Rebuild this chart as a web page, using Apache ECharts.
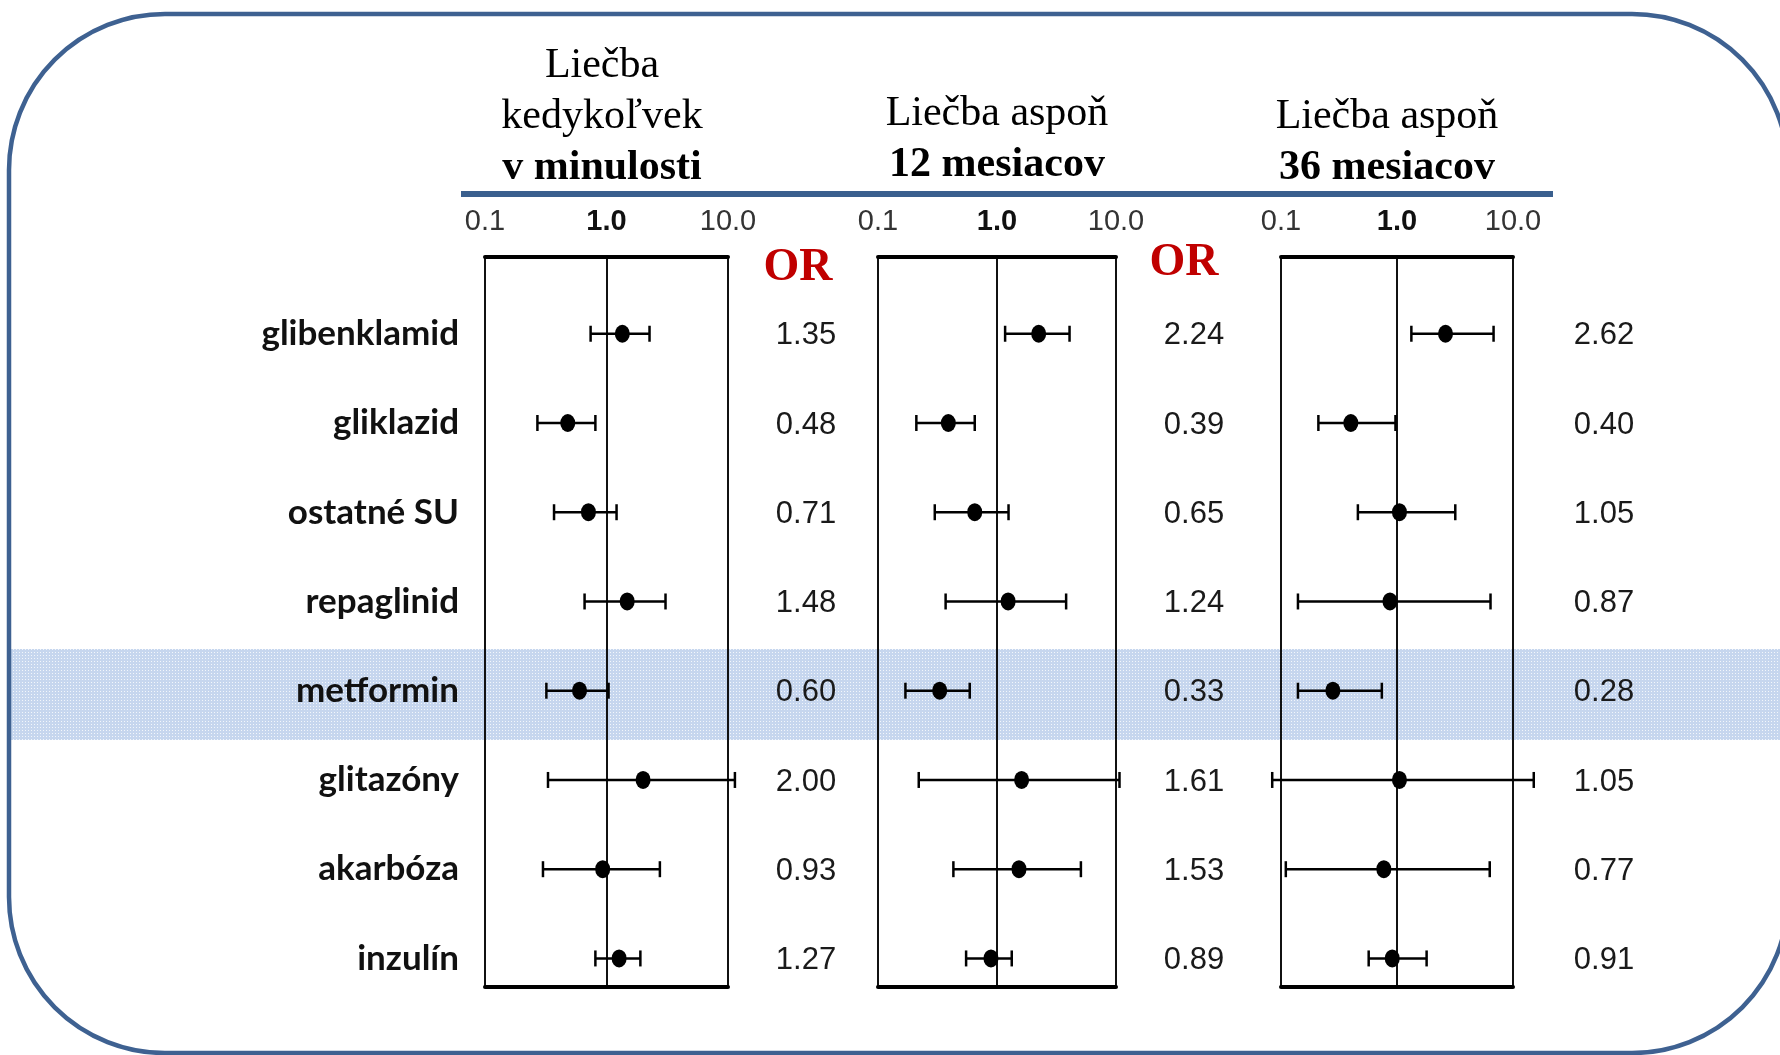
<!DOCTYPE html>
<html>
<head>
<meta charset="utf-8">
<script src="https://cdn.jsdelivr.net/npm/echarts@6/dist/echarts.min.js"></script>
<style>html,body{margin:0;padding:0;background:#fff}#c{width:1780px;height:1055px}</style>
</head>
<body>
<div id="c"></div>
<script>
const drugs = ['glibenklamid','gliklazid','ostatné SU','repaglinid','metformin','glitazóny','akarbóza','inzulín'];
const panelTitles = [['Liečba','kedykoľvek','v minulosti'], ['Liečba aspoň','12 mesiacov'], ['Liečba aspoň','36 mesiacov']];
const tickLabels = ['0.1','1.0','10.0'];
const or1 = [1.35,0.48,0.71,1.48,0.60,2.00,0.93,1.27];
const lo1 = [0.74,0.27,0.37,0.66,0.32,0.33,0.30,0.81];
const hi1 = [2.26,0.81,1.21,3.06,1.04,11.4,2.75,1.90];
const or2 = [2.24,0.39,0.65,1.24,0.33,1.61,1.53,0.89];
const lo2 = [1.17,0.21,0.30,0.37,0.17,0.22,0.43,0.55];
const hi2 = [4.07,0.65,1.25,3.81,0.59,10.7,5.07,1.33];
const or3 = [2.62,0.40,1.05,0.87,0.28,1.05,0.77,0.91];
const lo3 = [1.33,0.21,0.46,0.14,0.14,0.084,0.11,0.57];
const hi3 = [6.8,0.97,3.18,6.4,0.74,15.1,6.3,1.8];

const ORs = [or1, or2, or3], LOs = [lo1, lo2, lo3], HIs = [hi1, hi2, hi3];

const chart = echarts.init(document.getElementById('c'));

// dotted texture for highlighted row
const tile = document.createElement('canvas');
tile.width = 3; tile.height = 3;
const tctx = tile.getContext('2d');
tctx.fillStyle = '#c6d6ee'; tctx.fillRect(0, 0, 3, 3);
tctx.fillStyle = '#f2f6fb'; tctx.fillRect(1, 1, 1, 1);

const panels = [
  {left: 485, width: 243, orOffset: 78},
  {left: 878, width: 238, orOffset: 78},
  {left: 1281, width: 232, orOffset: 91}
];
const gridTop = 257, gridBottomY = 987;

const grids = [], xAxes = [], yAxes = [], series = [];
panels.forEach((p, i) => {
  grids.push({left: p.left, top: gridTop, width: p.width, height: gridBottomY - gridTop, containLabel: false});
  xAxes.push({
    type: 'log', logBase: 10, min: 0.1, max: 10, gridIndex: i, position: 'top',
    axisLine: {show: true, onZero: false, lineStyle: {color: '#000', width: 4}},
    axisTick: {show: false},
    splitLine: {show: true, lineStyle: {color: '#111', width: 2}},
    axisLabel: {
      margin: 21, color: '#333', fontFamily: 'Liberation Sans, Arial', fontSize: 29,
      formatter: v => v > 0.5 && v < 2 ? '{b|' + tickLabels[1] + '}' : (v < 0.5 ? tickLabels[0] : tickLabels[2]),
      rich: {b: {fontWeight: 'bold', fontSize: 29, color: '#111', fontFamily: 'Liberation Sans, Arial'}}
    }
  });
  xAxes.push({
    type: 'log', logBase: 10, min: 0.1, max: 10, gridIndex: i, position: 'bottom',
    axisLine: {show: true, onZero: false, lineStyle: {color: '#000', width: 4}},
    axisTick: {show: false}, axisLabel: {show: false}, splitLine: {show: false}
  });
  yAxes.push({type: 'value', gridIndex: i, inverse: true, min: -0.86, max: 7.32, show: false});

  const ORv = ORs[i], LOv = LOs[i], HIv = HIs[i];
  series.push({
    type: 'custom', xAxisIndex: i * 2, yAxisIndex: i, z: 3,
    data: drugs.map((d, k) => [LOv[k], HIv[k], k]),
    encode: {x: [0, 1], y: 2},
    renderItem: (params, api) => {
      const a = api.coord([api.value(0), api.value(2)]);
      const b = api.coord([api.value(1), api.value(2)]);
      const cap = 8;
      const st = {stroke: '#000', lineWidth: 2.5};
      return {type: 'group', children: [
        {type: 'line', shape: {x1: a[0], y1: a[1], x2: b[0], y2: b[1]}, style: st},
        {type: 'line', shape: {x1: a[0], y1: a[1] - cap, x2: a[0], y2: a[1] + cap}, style: st},
        {type: 'line', shape: {x1: b[0], y1: b[1] - cap, x2: b[0], y2: b[1] + cap}, style: st}
      ]};
    }
  });
  series.push({
    type: 'scatter', xAxisIndex: i * 2, yAxisIndex: i, z: 4,
    symbol: 'circle', symbolSize: [15, 18],
    itemStyle: {color: '#000', opacity: 1},
    data: drugs.map((d, k) => [ORv[k], k])
  });
  // OR value column
  series.push({
    type: 'custom', xAxisIndex: i * 2, yAxisIndex: i, z: 5,
    data: drugs.map((d, k) => [10, k, ORv[k]]),
    encode: {x: 0, y: 1},
    renderItem: (params, api) => {
      const c = api.coord([10, api.value(1)]);
      return {type: 'text', x: c[0] + p.orOffset, y: c[1] + 2, style: {
        text: api.value(2).toFixed(2), fill: '#1a1a1a', fontSize: 31,
        fontFamily: 'Liberation Sans, Arial', align: 'center', verticalAlign: 'middle'}};
    }
  });
});
// row labels
series.push({
  type: 'custom', xAxisIndex: 0, yAxisIndex: 0, z: 5,
  data: drugs.map((d, k) => [0.1, k, d]),
  encode: {x: 0, y: 1},
  renderItem: (params, api) => {
    const c = api.coord([0.1, api.value(1)]);
    return {type: 'text', x: c[0] - 26, y: c[1], style: {
      text: drugs[params.dataIndex], fill: '#111', fontSize: 35, fontWeight: 'bold',
      fontFamily: 'Lato, Open Sans, sans-serif', align: 'right', verticalAlign: 'middle'}};
  }
});

const titleFont = 'Liberation Serif, Times New Roman, serif';
const graphic = [
  {type: 'rect', z: -10, silent: true, shape: {x: 10, y: 649, width: 1770, height: 91}, style: {fill: {image: tile, repeat: 'repeat'}}},
  {type: 'rect', z: 10, silent: true, shape: {x: 9, y: 14, width: 1779, height: 1039, r: 156}, style: {fill: null, stroke: '#3e6191', lineWidth: 4.5}},
  {type: 'line', z: 10, silent: true, shape: {x1: 461, y1: 194, x2: 1553, y2: 194}, style: {stroke: '#3a5f8e', lineWidth: 6}},
  {type: 'text', x: 602, y: 66, style: {text: panelTitles[0][0], fontFamily: titleFont, fontSize: 42, fill: '#000', align: 'center', verticalAlign: 'middle'}},
  {type: 'text', x: 602, y: 117, style: {text: panelTitles[0][1], fontFamily: titleFont, fontSize: 42, fill: '#000', align: 'center', verticalAlign: 'middle'}},
  {type: 'text', x: 602, y: 168, style: {text: panelTitles[0][2], fontFamily: titleFont, fontSize: 42, fontWeight: 'bold', fill: '#000', align: 'center', verticalAlign: 'middle'}},
  {type: 'text', x: 997, y: 114, style: {text: panelTitles[1][0], fontFamily: titleFont, fontSize: 42, fill: '#000', align: 'center', verticalAlign: 'middle'}},
  {type: 'text', x: 997, y: 165, style: {text: panelTitles[1][1], fontFamily: titleFont, fontSize: 42, fontWeight: 'bold', fill: '#000', align: 'center', verticalAlign: 'middle'}},
  {type: 'text', x: 1387, y: 117, style: {text: panelTitles[2][0], fontFamily: titleFont, fontSize: 42, fill: '#000', align: 'center', verticalAlign: 'middle'}},
  {type: 'text', x: 1387, y: 168, style: {text: panelTitles[2][1], fontFamily: titleFont, fontSize: 42, fontWeight: 'bold', fill: '#000', align: 'center', verticalAlign: 'middle'}},
  {type: 'text', x: 798, y: 268, style: {text: 'OR', fontFamily: titleFont, fontSize: 46, fontWeight: 'bold', fill: '#c00000', align: 'center', verticalAlign: 'middle'}},
  {type: 'text', x: 1184, y: 263, style: {text: 'OR', fontFamily: titleFont, fontSize: 46, fontWeight: 'bold', fill: '#c00000', align: 'center', verticalAlign: 'middle'}}
];

chart.setOption({
  backgroundColor: '#fff',
  animation: false,
  grid: grids, xAxis: xAxes, yAxis: yAxes, series: series, graphic: graphic
});
</script>
</body>
</html>
